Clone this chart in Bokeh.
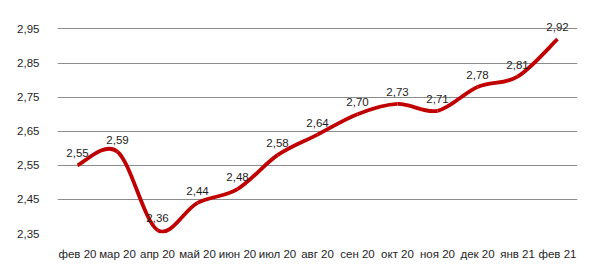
import numpy as np
from bokeh.plotting import figure
from bokeh.models import ColumnDataSource, FixedTicker, Range1d
from bokeh.core.properties import value
from bokeh.embed import file_html
from bokeh.resources import INLINE

months = ["фев 20", "мар 20", "апр 20", "май 20", "июн 20", "июл 20", "авг 20",
          "сен 20", "окт 20", "ноя 20", "дек 20", "янв 21", "фев 21"]
values = [2.55, 2.59, 2.36, 2.44, 2.48, 2.58, 2.64, 2.70, 2.73, 2.71, 2.78, 2.81, 2.92]
y_ticks = [2.35, 2.45, 2.55, 2.65, 2.75, 2.85, 2.95]

FONT = "Liberation Sans"
RED = "#C00000"

x = np.arange(len(values), dtype=float)
y = np.array(values)

# Catmull-Rom style smoothing (like a spreadsheet "smoothed line") via bezier segments
xp = np.concatenate([[x[0]], x, [x[-1]]])
yp = np.concatenate([[y[0]], y, [y[-1]]])
x0 = x[:-1]; y0 = y[:-1]; x1 = x[1:]; y1 = y[1:]
cx0 = x0 + (xp[2:-1] - xp[:-3]) / 6.0
cy0 = y0 + (yp[2:-1] - yp[:-3]) / 6.0
cx1 = x1 - (xp[3:] - xp[1:-2]) / 6.0
cy1 = y1 - (yp[3:] - yp[1:-2]) / 6.0

p = figure(width=607, height=268, output_backend="svg", toolbar_location=None,
           x_range=Range1d(-0.5, len(values) - 0.5), y_range=Range1d(2.35, 3.01),
           min_border_left=57, min_border_right=30, min_border_top=8, min_border_bottom=35)
p.outline_line_color = None
p.background_fill_color = "white"
p.border_fill_color = "white"

p.bezier(x0=x0, y0=y0, x1=x1, y1=y1, cx0=cx0, cy0=cy0, cx1=cx1, cy1=cy1,
         line_color=RED, line_width=3.8)

labels = ColumnDataSource(dict(x=x, y=y, t=[f"{v:.2f}".replace(".", ",") for v in values]))
p.text(x="x", y="y", text="t", source=labels, text_align="center", text_baseline="bottom",
       y_offset=-8, text_font_size="11.5px", text_color="#1e1e1e", text_font=value(FONT))

p.yaxis.ticker = FixedTicker(ticks=y_ticks)
p.yaxis.major_label_overrides = {t: f"{t:.2f}".replace(".", ",") for t in y_ticks}
p.xaxis.ticker = FixedTicker(ticks=list(range(len(months))))
p.xaxis.major_label_overrides = {i: m for i, m in enumerate(months)}

for ax in (p.xaxis, p.yaxis):
    ax.major_tick_line_color = None
    ax.minor_tick_line_color = None
    ax.axis_line_color = None
    ax.major_label_text_font = FONT
    ax.major_label_text_font_size = "11.5px"
    ax.major_label_text_color = "#1e1e1e"
p.yaxis.major_label_standoff = 12
p.xaxis.major_label_standoff = 8

p.xgrid.grid_line_color = None
p.ygrid.ticker = FixedTicker(ticks=y_ticks)
p.ygrid.grid_line_color = "#8c8c8c"
p.ygrid.grid_line_width = 1.2

open("out.html", "w").write(file_html(p, INLINE))
